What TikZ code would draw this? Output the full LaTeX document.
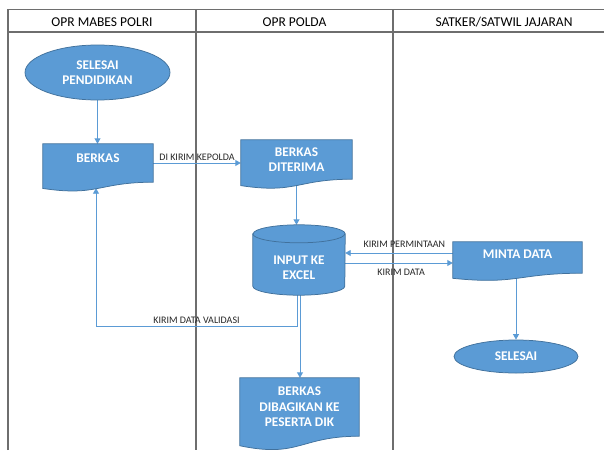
\documentclass[tikz,border=0pt]{standalone}
\usepackage{fontspec}
\setmainfont{Carlito}
\usetikzlibrary{shapes.geometric,arrows.meta}
\pgfdeclarelayer{bg}\pgfdeclarelayer{mid}\pgfsetlayers{bg,mid,main}
\definecolor{shapefill}{HTML}{5B9BD5}
\definecolor{shapeline}{HTML}{41719C}
\definecolor{connc}{HTML}{5B9BD5}
\definecolor{framec}{HTML}{6E6E6E}
\definecolor{labc}{HTML}{262626}
\tikzset{
  frame/.style={draw=framec, line width=1.3pt},
  head/.style={font=\fontsize{13.5}{16}\selectfont, text=black, inner sep=0pt},
  shapetext/.style={font=\fontsize{13.3}{15.5}\selectfont\bfseries, text=white, align=center, inner sep=0pt},
  ellnode/.style={shapetext, ellipse, fill=shapefill, draw=shapeline, line width=0.75pt},
  shapedraw/.style={fill=shapefill, draw=shapeline, line width=0.75pt},
  conn/.style={draw=connc, line width=0.9pt, -{Triangle[length=5.5pt,width=6pt]}},
  lab/.style={font=\fontsize{10}{12}\selectfont, text=labc}
}
\newcommand\docshape[2]{%
  \path[shapedraw] (#1.north west) -- (#1.north east) -- (#1.south east)
    .. controls (#1.south) and ([yshift={-0.38*#2pt}]#1.south) .. ([yshift={-0.1646*#2pt}]#1.south west) -- cycle;
}
\begin{document}
\begin{tikzpicture}[x=1pt,y=-1pt]
\useasboundingbox (0,0) rectangle (604,450);
% headers
\node[head] (h1) at (102,22) {OPR MABES POLRI};
\node[head] (h2) at (294.5,22) {OPR POLDA};
\node[head] (h3) at (504,22) {SATKER/SATWIL JAJARAN};
% shapes (text / anchors)
\node[ellnode, minimum width=145pt, minimum height=55pt] (e1) at (97.5,72.5) {SELESAI\\PENDIDIKAN};
\node[shapetext, minimum width=110pt, minimum height=38pt, text depth=10pt] (berkas) at (98,163) {BERKAS};
\node[shapetext, minimum width=111pt, minimum height=39pt] (diterima) at (296.5,159.5) {BERKAS\\DITERIMA};
\node[inner sep=0pt, minimum width=92pt, minimum height=70pt] (cyl) at (299,260) {};
\node[shapetext] (cyltext) at ([yshift=-7.5pt]cyl.center) {INPUT KE\\EXCEL};
\node[shapetext, minimum width=129pt, minimum height=31pt, text depth=7pt] (minta) at (517.5,257.5) {MINTA DATA};
\node[ellnode, minimum width=124pt, minimum height=33pt] (selesai) at (516,356.5) {SELESAI};
\node[shapetext, minimum width=119pt, minimum height=58pt] (dibagi) at (299.5,407) {BERKAS\\DIBAGIKAN KE\\PESERTA DIK};
% shape bodies
\begin{pgfonlayer}{mid}
\docshape{berkas}{38}
\docshape{diterima}{39}
\docshape{minta}{31}
\docshape{dibagi}{58}
\path[shapedraw] ([yshift=-9pt]cyl.north west) -- ([yshift=9pt]cyl.south west)
  arc[start angle=180, end angle=360, x radius=46pt, y radius=9pt]
  -- ([yshift=-9pt]cyl.north east)
  arc[start angle=0, end angle=180, x radius=46pt, y radius=9pt] -- cycle;
\draw[draw=shapeline, line width=0.75pt] ([yshift=-9pt]cyl.north west)
  arc[start angle=180, end angle=360, x radius=46pt, y radius=9pt];
\end{pgfonlayer}
% frame and connectors
\begin{pgfonlayer}{bg}
\draw[frame] (8,450) -- (8,9.5) -- (604,9.5);
\draw[frame] (8,32) -- (604,32);
\draw[frame] (196,9.5) -- (196,450);
\draw[frame] (393,9.5) -- (393,450);
\draw[conn] (e1.south) -- (e1.south |- berkas.north);
\draw[conn] (berkas.east) -- node[lab, above, inner sep=2pt] {DI KIRIM KEPOLDA} (berkas.east -| diterima.west);
\draw[conn] (diterima.south) -- (diterima.south |- cyl.north);
\draw[conn] ([yshift=4.5pt]minta.west) -- node[lab, above, inner sep=5.5pt, pos=0.45] {KIRIM PERMINTAAN} ([yshift=4.5pt]minta.west -| cyl.east);
\draw[conn] ([yshift=-3pt]cyl.east) -- node[lab, below, inner sep=5.5pt, pos=0.52] {KIRIM DATA} ([yshift=-3pt]cyl.east -| minta.west);
\draw[conn] (minta.south -| selesai.north) -- (selesai.north);
\draw[conn] ([xshift=-2pt]cyl.south) -- ([xshift=-2pt,yshift=-31pt]cyl.south)
  -| node[lab, above, inner sep=2.5pt, pos=0.25] {KIRIM DATA VALIDASI} ([xshift=-2pt,yshift=-6pt]berkas.south);
\draw[conn] ([xshift=1pt]cyl.south) -- ([xshift=1pt]cyl.south |- dibagi.north);
\end{pgfonlayer}
\end{tikzpicture}
\end{document}
